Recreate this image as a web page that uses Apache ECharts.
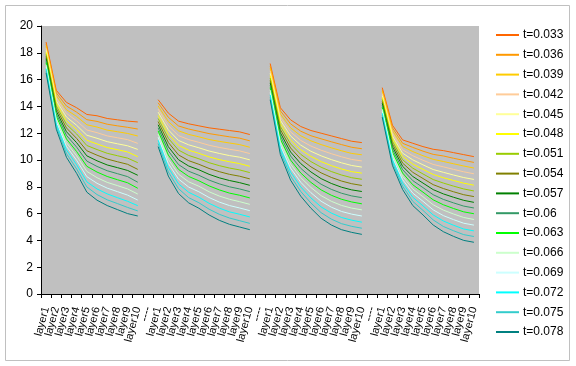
<!DOCTYPE html>
<html>
<head>
<meta charset="utf-8">
<script src="https://cdn.jsdelivr.net/npm/echarts@6/dist/echarts.min.js"></script>
<style>html,body{margin:0;padding:0;background:#fff;}#c{width:576px;height:366px;}</style>
</head>
<body>
<div id="c"></div>
<script>
const layers = ['layer1','layer2','layer3','layer4','layer5','layer6','layer7','layer8','layer9','layer10'];
const gapLabel = '----';
const categories = [].concat(layers, [gapLabel], layers, [gapLabel], layers, [gapLabel], layers);
const yTicks = [0, 2, 4, 6, 8, 10, 12, 14, 16, 18, 20];
const seriesNames = ['t=0.033','t=0.036','t=0.039','t=0.042','t=0.045','t=0.048','t=0.051','t=0.054','t=0.057','t=0.06','t=0.063','t=0.066','t=0.069','t=0.072','t=0.075','t=0.078'];
const seriesColors = ['#FF6600','#FF9900','#FFCC00','#FFCC99','#FFFF99','#FFFF00','#99CC00','#808000','#008000','#339966','#00FF00','#CCFFCC','#CCFFFF','#00FFFF','#33CCCC','#008080'];

const t033 = [18.8,15.2,14.3,13.9,13.4,13.3,13.1,13.0,12.9,12.84, null, 14.5,13.5,12.9,12.7,12.55,12.4,12.3,12.2,12.1,11.9, null, 17.2,13.9,13.0,12.5,12.2,12.0,11.8,11.6,11.4,11.3, null, 15.4,12.6,11.5,11.25,11.0,10.8,10.7,10.55,10.4,10.25];
const t036 = [18.65,15.01,14.03,13.57,13.01,12.88,12.67,12.55,12.44,12.31, null, 14.27,13.19,12.54,12.31,12.14,11.97,11.85,11.73,11.63,11.43, null, 17.02,13.67,12.7,12.15,11.81,11.58,11.36,11.15,10.95,10.84, null, 15.25,12.4,11.25,10.94,10.66,10.42,10.3,10.13,9.97,9.82];
const t039 = [18.49,14.81,13.75,13.25,12.63,12.46,12.23,12.11,11.98,11.79, null, 14.03,12.87,12.18,11.91,11.73,11.53,11.39,11.27,11.15,10.95, null, 16.84,13.43,12.4,11.81,11.43,11.15,10.91,10.69,10.49,10.39, null, 15.11,12.2,11.01,10.63,10.32,10.05,9.89,9.72,9.55,9.4];
const t042 = [18.34,14.62,13.48,12.92,12.24,12.04,11.8,11.66,11.52,11.24, null, 13.8,12.56,11.82,11.52,11.32,11.1,10.94,10.8,10.68,10.48, null, 16.66,13.2,12.1,11.46,11.04,10.73,10.47,10.24,10.04,9.93, null, 14.96,12.0,10.76,10.32,9.98,9.67,9.49,9.3,9.12,8.97];
const t045 = [18.19,14.43,13.21,12.59,11.85,11.62,11.37,11.21,11.06,10.79, null, 13.57,12.25,11.46,11.13,10.91,10.67,10.49,10.33,10.21,10.01, null, 16.48,12.97,11.8,11.11,10.65,10.31,10.03,9.79,9.59,9.47, null, 14.81,11.8,10.51,10.01,9.64,9.29,9.08,8.88,8.69,8.55];
const t048 = [18.03,14.23,12.93,12.27,11.47,11.2,10.93,10.77,10.6,10.25, null, 13.33,11.93,11.1,10.73,10.5,10.23,10.03,9.87,9.73,9.53, null, 16.3,12.73,11.5,10.77,10.27,9.88,9.58,9.33,9.13,9.02, null, 14.67,11.6,10.27,9.7,9.3,8.92,8.68,8.47,8.27,8.12];
const t051 = [17.88,14.04,12.66,11.94,11.08,10.78,10.5,10.32,10.14,9.8, null, 13.1,11.62,10.74,10.34,10.09,9.8,9.58,9.4,9.26,9.06, null, 16.12,12.5,11.2,10.42,9.88,9.46,9.14,8.88,8.68,8.56, null, 14.52,11.4,10.02,9.39,8.96,8.54,8.28,8.05,7.84,7.69];
const t054 = [17.73,13.85,12.39,11.61,10.69,10.36,10.07,9.87,9.68,9.3, null, 12.87,11.31,10.38,9.95,9.68,9.37,9.13,8.93,8.79,8.59, null, 15.94,12.27,10.9,10.07,9.49,9.04,8.7,8.43,8.23,8.1, null, 14.37,11.2,9.77,9.08,8.62,8.16,7.87,7.63,7.41,7.27];
const t057 = [17.57,13.65,12.11,11.29,10.31,9.94,9.63,9.43,9.22,8.86, null, 12.63,10.99,10.02,9.55,9.27,8.93,8.67,8.47,8.31,8.11, null, 15.76,12.03,10.6,9.73,9.11,8.61,8.25,7.97,7.77,7.65, null, 14.23,11.0,9.53,8.77,8.28,7.79,7.47,7.22,6.99,6.84];
const t060 = [17.42,13.46,11.84,10.96,9.92,9.52,9.2,8.98,8.76,8.34, null, 12.4,10.68,9.66,9.16,8.86,8.5,8.22,8.0,7.84,7.64, null, 15.58,11.8,10.3,9.38,8.72,8.19,7.81,7.52,7.32,7.19, null, 14.08,10.8,9.28,8.46,7.94,7.41,7.06,6.8,6.56,6.42];
const t063 = [17.27,13.27,11.57,10.63,9.53,9.1,8.77,8.53,8.3,7.89, null, 12.17,10.37,9.3,8.77,8.45,8.07,7.77,7.53,7.37,7.17, null, 15.4,11.57,10.0,9.03,8.33,7.77,7.37,7.07,6.87,6.73, null, 13.93,10.6,9.03,8.15,7.6,7.03,6.66,6.38,6.13,5.99];
const t066 = [17.11,13.07,11.29,10.31,9.15,8.68,8.33,8.09,7.84,7.46, null, 11.93,10.05,8.94,8.37,8.04,7.63,7.31,7.07,6.89,6.69, null, 15.22,11.33,9.7,8.69,7.95,7.34,6.92,6.61,6.41,6.28, null, 13.79,10.4,8.79,7.84,7.26,6.66,6.26,5.97,5.71,5.56];
const t069 = [16.96,12.88,11.02,9.98,8.76,8.26,7.9,7.64,7.38,7.01, null, 11.7,9.74,8.58,7.98,7.63,7.2,6.86,6.6,6.42,6.22, null, 15.04,11.1,9.4,8.34,7.56,6.92,6.48,6.16,5.96,5.82, null, 13.64,10.2,8.54,7.53,6.92,6.28,5.85,5.55,5.28,5.14];
const t072 = [16.81,12.69,10.75,9.65,8.37,7.84,7.47,7.19,6.92,6.59, null, 11.47,9.43,8.22,7.59,7.22,6.77,6.41,6.13,5.95,5.75, null, 14.86,10.87,9.1,7.99,7.17,6.5,6.04,5.71,5.51,5.36, null, 13.49,10.0,8.29,7.22,6.58,5.9,5.45,5.13,4.85,4.71];
const t075 = [16.65,12.49,10.47,9.33,7.99,7.42,7.03,6.75,6.46,6.2, null, 11.23,9.11,7.86,7.19,6.81,6.33,5.95,5.67,5.47,5.27, null, 14.68,10.63,8.8,7.65,6.79,6.07,5.59,5.25,5.05,4.91, null, 13.35,9.8,8.05,6.91,6.24,5.53,5.04,4.72,4.43,4.29];
const t078 = [16.5,12.3,10.2,9.0,7.6,7.0,6.6,6.3,6.0,5.82, null, 11.0,8.8,7.5,6.8,6.4,5.9,5.5,5.2,5.0,4.8, null, 14.5,10.4,8.5,7.3,6.4,5.65,5.15,4.8,4.6,4.45, null, 13.2,9.6,7.8,6.6,5.9,5.15,4.65,4.3,4.0,3.86];

const seriesValues = [t033,t036,t039,t042,t045,t048,t051,t054,t057,t060,t063,t066,t069,t072,t075,t078];

const FONT = '"Liberation Sans", Arial, sans-serif';
const chart = echarts.init(document.getElementById('c'), null, {renderer: 'canvas'});
chart.setOption({
  animation: false,
  backgroundColor: '#ffffff',
  textStyle: {fontFamily: FONT},
  graphic: [{
    type: 'rect', silent: true, z: -10,
    shape: {x: 5.5, y: 5.5, width: 564, height: 355},
    style: {fill: 'none', stroke: '#C0C0C0', lineWidth: 1}
  }],
  grid: {left: 41, right: 97, top: 26, bottom: 72, show: true, backgroundColor: '#C0C0C0', borderWidth: 0},
  legend: {
    orient: 'vertical', left: 496, top: 29, padding: 0,
    icon: 'rect',
    itemWidth: 23, itemHeight: 2, itemGap: 7.8,
    textStyle: {fontFamily: FONT, fontSize: 12, lineHeight: 12, color: '#000', padding: [0,0,0,-1]},
    data: seriesNames
  },
  xAxis: {
    type: 'category', data: categories, boundaryGap: true,
    axisLine: {lineStyle: {color: '#000', width: 1}},
    axisTick: {show: true, interval: 0, length: 4, lineStyle: {color: '#000'}},
    axisLabel: {interval: 0, rotate: 75, fontSize: 11, fontFamily: FONT, color: '#000', margin: 13},
    splitLine: {show: false}
  },
  yAxis: {
    type: 'value', min: yTicks[0], max: yTicks[yTicks.length-1], interval: 2,
    axisLine: {show: true, lineStyle: {color: '#000', width: 1}},
    axisTick: {show: true, length: 4, lineStyle: {color: '#000'}},
    axisLabel: {fontSize: 12, fontFamily: FONT, color: '#000', margin: 8},
    splitLine: {show: false}
  },
  series: seriesNames.map((n, i) => ({
    name: n, type: 'line', data: seriesValues[i],
    symbol: 'none', connectNulls: false,
    lineStyle: {color: seriesColors[i], width: 1},
    itemStyle: {color: seriesColors[i]}
  }))
});
</script>
</body>
</html>
